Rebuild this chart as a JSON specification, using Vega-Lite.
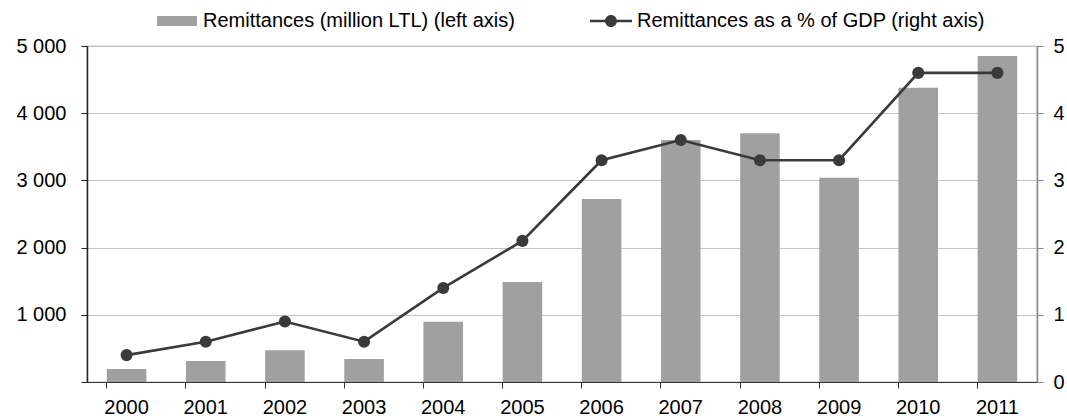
{
  "$schema": "https://vega.github.io/schema/vega-lite/v6.json",
  "width": 950,
  "height": 336,
  "autosize": "none",
  "padding": {"left": 87, "top": 46, "right": 30, "bottom": 38},
  "background": "white",
  "config": {
    "font": "Liberation Sans",
    "view": {"stroke": "#8a8a8a", "strokeWidth": 1.2},
    "axis": {"labelFont": "Liberation Sans", "labelFontSize": 20, "labelColor": "#000000", "tickSize": 6, "title": null},
    "legend": {"labelFont": "Liberation Sans", "labelFontSize": 20, "labelColor": "#000000", "labelLimit": 600}
  },
  "data": {
    "values": [
      {"year": "2000", "amount": 195, "pct": 0.4},
      {"year": "2001", "amount": 313, "pct": 0.6},
      {"year": "2002", "amount": 473, "pct": 0.9},
      {"year": "2003", "amount": 343, "pct": 0.6},
      {"year": "2004", "amount": 896, "pct": 1.4},
      {"year": "2005", "amount": 1488, "pct": 2.1},
      {"year": "2006", "amount": 2724, "pct": 3.3},
      {"year": "2007", "amount": 3600, "pct": 3.6},
      {"year": "2008", "amount": 3700, "pct": 3.3},
      {"year": "2009", "amount": 3040, "pct": 3.3},
      {"year": "2010", "amount": 4377, "pct": 4.6},
      {"year": "2011", "amount": 4851, "pct": 4.6}
    ]
  },
  "encoding": {
    "x": {
      "field": "year", "type": "ordinal",
      "scale": {"paddingInner": 0.5, "paddingOuter": 0.25},
      "axis": {"labelAngle": 0, "bandPosition": 0, "domainColor": "#333333", "tickColor": "#333333", "labelPadding": 9, "labelFlush": false}
    }
  },
  "layer": [
    {
      "mark": {"type": "bar"},
      "encoding": {
        "y": {
          "field": "amount", "type": "quantitative",
          "scale": {"domain": [0, 5000], "nice": false},
          "axis": {
            "values": [0, 1000, 2000, 3000, 4000, 5000],
            "labelExpr": "datum.value == 0 ? '' : replace(format(datum.value, ','), ',', ' ')",
            "grid": true, "gridColor": "#c4c4c4", "gridWidth": 1.2,
            "domainColor": "#222222", "domainWidth": 1.5, "tickColor": "#222222", "labelPadding": 15
          }
        },
        "color": {
          "datum": "Remittances (million LTL) (left axis)",
          "scale": {
            "domain": ["Remittances (million LTL) (left axis)", "Remittances as a % of GDP (right axis)"],
            "range": ["#a0a0a0", "#3a3a3a"]
          },
          "legend": {
            "title": null,
            "orient": "none",
            "direction": "horizontal",
            "legendX": 80,
            "legendY": -35,
            "symbolSize": 400,
            "labelOffset": 16,
            "columnPadding": 75,
            "padding": 0,
            "encode": {
              "symbols": {
                "update": {
                  "shape": {"signal": "datum.value == 'Remittances (million LTL) (left axis)' ? 'M-2,-0.5H2V0.5H-2Z' : 'M-2.1,-0.13H2.1V0.13H-2.1Z M-0.6,0A0.6,0.6 0 1,1 0.6,0A0.6,0.6 0 1,1 -0.6,0Z'"},
                  "fill": {"scale": "color", "field": "value"},
                  "stroke": {"value": "transparent"},
                  "strokeWidth": {"value": 0},
                  "opacity": {"value": 1}
                }
              }
            }
          }
        }
      }
    },
    {
      "mark": {"type": "line", "strokeWidth": 2.6, "point": {"filled": true, "size": 145, "opacity": 1}},
      "encoding": {
        "y": {
          "field": "pct", "type": "quantitative",
          "scale": {"domain": [0, 5], "nice": false},
          "axis": {
            "orient": "right",
            "values": [0, 1, 2, 3, 4, 5],
            "grid": false,
            "domainColor": "#888888", "domainWidth": 1.5, "tickColor": "#888888", "labelPadding": 10
          }
        },
        "color": {"datum": "Remittances as a % of GDP (right axis)"}
      }
    }
  ],
  "resolve": {"scale": {"y": "independent"}}
}
